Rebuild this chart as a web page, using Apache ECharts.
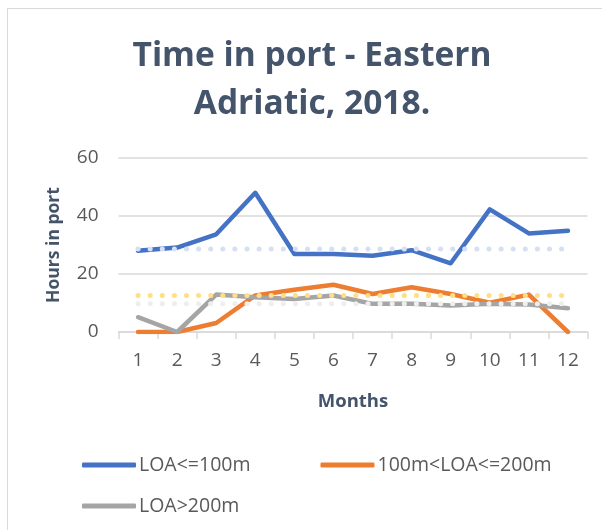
<!DOCTYPE html>
<html>
<head>
<meta charset="utf-8">
<script src="https://cdn.jsdelivr.net/npm/echarts@6/dist/echarts.min.js"></script>
<style>
  html, body { margin: 0; padding: 0; background: #fff; }
  #frame {
    position: absolute; left: 7px; top: 8px; width: 640px; height: 600px;
    border: 1.5px solid #D9D9D9; box-sizing: border-box;
  }
  #chart { position: absolute; left: 0; top: 0; width: 602px; height: 530px; }
</style>
</head>
<body>
<div id="frame"></div>
<div id="chart"></div>
<script>
const months = ["1", "2", "3", "4", "5", "6", "7", "8", "9", "10", "11", "12"];
const loaSmall = [28, 29.1, 33.7, 48, 26.9, 26.9, 26.3, 28.2, 23.7, 42.3, 34, 34.9];
const loaMid = [0, 0, 3.1, 12.6, 14.6, 16.3, 13.1, 15.4, 13.1, 10.1, 12.9, 0];
const loaLarge = [5.1, 0, 12.9, 12, 11.4, 12.6, 9.7, 9.7, 9.1, 9.7, 9.5, 8.2];
// dotted reference levels
const refSmall = 28.6;
const refMid = 12.6;
const refLarge = 9.7;

const chart = echarts.init(document.getElementById("chart"));

const lineSeries = (name, data, color) => ({
  name: name,
  type: "line",
  data: data,
  symbol: "none",
  lineStyle: { color: color, width: 4.5, join: "round", cap: "round" },
  itemStyle: { color: color },
});

const refSeries = (value, color) => ({
  type: "line",
  data: [[0, value], [11, value]],
  symbol: "none",
  silent: true,
  z: 3,
  lineStyle: { color: color, width: 5, type: [0.1, 12], cap: "round" },
});

const legendText = { color: "#595959", fontSize: 19.5, fontFamily: "Open Sans", padding: [0, 0, 0, -2] };

const option = {
  animation: false,
  title: {
    text: "Time in port - Eastern\nAdriatic, 2018.",
    left: 307,
    textAlign: "center",
    top: 27.5,
    textStyle: {
      color: "#44546A",
      fontSize: 33.5,
      fontWeight: "bold",
      fontFamily: "Open Sans",
      lineHeight: 48,
    },
  },
  grid: { left: 118.5, right: 14.5, top: 158, bottom: 198 },
  legend: [
    {
      data: ["LOA<=100m", "100m<LOA<=200m"],
      left: 77,
      top: 450,
      icon: "roundRect",
      itemWidth: 54,
      itemHeight: 5,
      itemGap: 70,
      textStyle: legendText,
    },
    {
      data: ["LOA>200m"],
      left: 77,
      top: 491,
      icon: "roundRect",
      itemWidth: 54,
      itemHeight: 5,
      textStyle: legendText,
    },
  ],
  xAxis: {
    type: "category",
    data: months,
    name: "Months",
    nameLocation: "middle",
    nameGap: 60,
    nameTextStyle: { color: "#44546A", fontSize: 18.5, fontWeight: "bold", fontFamily: "Open Sans" },
    axisLine: { lineStyle: { color: "#D9D9D9", width: 1.5 } },
    axisTick: { show: true, length: 7, lineStyle: { color: "#D9D9D9", width: 1.5 } },
    axisLabel: { color: "#595959", fontSize: 19, fontFamily: "Open Sans", margin: 19 },
  },
  yAxis: {
    type: "value",
    min: 0,
    max: 60,
    interval: 20,
    name: "Hours in port",
    nameLocation: "middle",
    nameGap: 55,
    nameTextStyle: { color: "#44546A", fontSize: 17.5, fontWeight: "bold", fontFamily: "Open Sans" },
    axisLine: { show: false },
    axisTick: { show: false },
    axisLabel: { color: "#595959", fontSize: 19, fontFamily: "Open Sans", margin: 20 },
    splitLine: { lineStyle: { color: "#D9D9D9", width: 1.5 } },
  },
  series: [
    lineSeries("LOA<=100m", loaSmall, "#4472C4"),
    lineSeries("100m<LOA<=200m", loaMid, "#ED7D31"),
    lineSeries("LOA>200m", loaLarge, "#A5A5A5"),
    refSeries(refSmall, "#D6E0F4"),
    refSeries(refMid, "#FFDF85"),
    refSeries(refLarge, "#EEEEEE"),
  ],
};

chart.setOption(option);
</script>
</body>
</html>
